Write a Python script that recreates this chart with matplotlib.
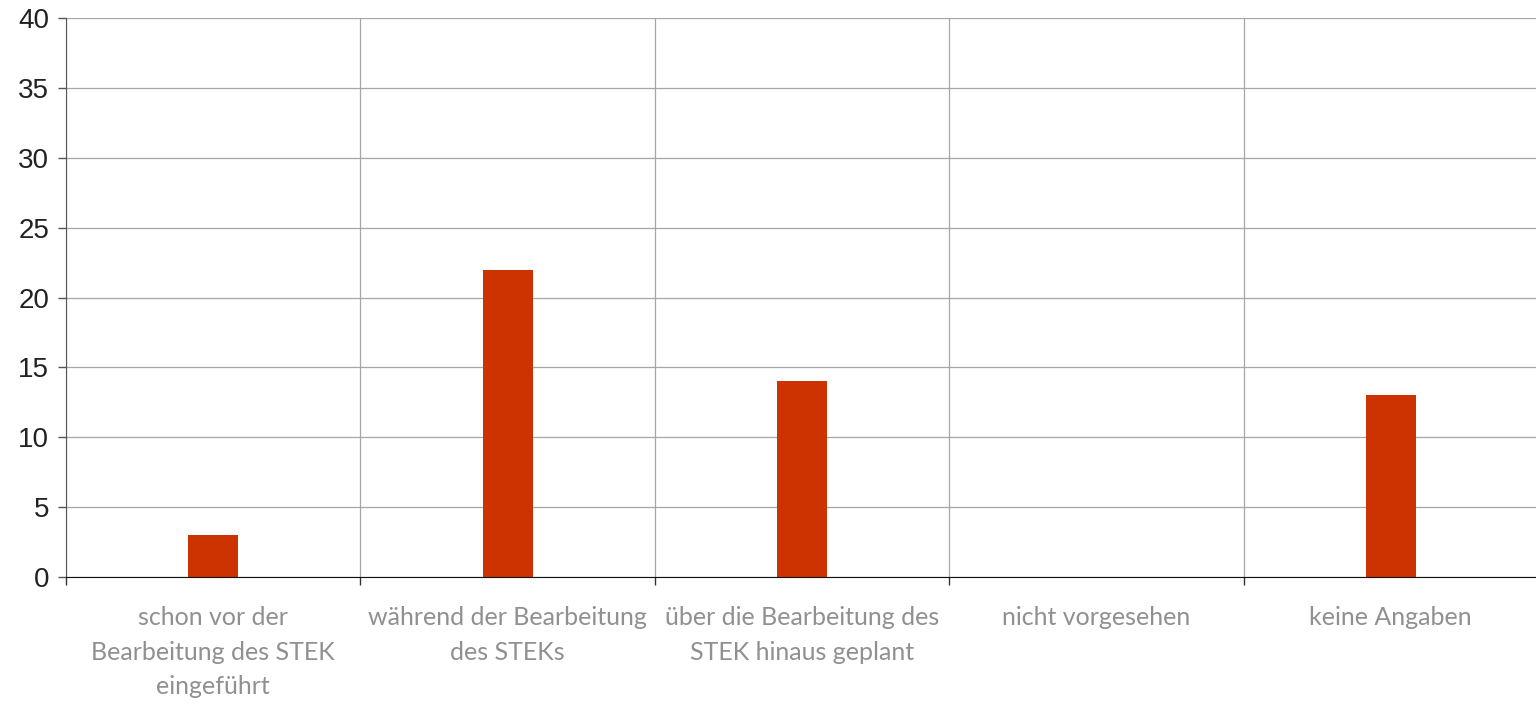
import numpy as np
import matplotlib
matplotlib.use('Agg')
import matplotlib.pyplot as plt

categories = ['schon vor der\nBearbeitung des STEK\neingeführt',
              'während der Bearbeitung\ndes STEKs',
              'über die Bearbeitung des\nSTEK hinaus geplant',
              'nicht vorgesehen',
              'keine Angaben']
values = [3, 22, 14, 0, 13]

fig = plt.figure(figsize=(15.36, 7.04), dpi=100)
ax = fig.add_axes([66/1536, 127/704, 1472/1536, 559/704])

x = np.arange(len(categories))
ax.bar(x, values, width=0.17, color='#CC3300', zorder=3)

ax.set_xlim(-0.5, len(categories) - 0.5)
ax.set_ylim(0, 40)
ax.set_yticks(np.arange(0, 41, 5))

# category boundaries carry the tick marks + vertical grid
ax.set_xticks(np.arange(-0.5, len(categories), 1.0))
ax.set_xticklabels([])
ax.set_xticks(x, minor=True)
ax.set_xticklabels(categories, minor=True, fontsize=18, color='#909090',
                   family=['Lato', 'DejaVu Sans'], fontweight='normal', linespacing=1.6)
ax.tick_params(axis='x', which='minor', length=0, pad=21)
ax.tick_params(axis='x', which='major', length=6, width=1, color='#333333', direction='out')
ax.tick_params(axis='y', length=6, width=1, color='#555555', labelsize=20, labelcolor='#222222', pad=6)
for lbl in ax.get_yticklabels():
    lbl.set_family(['Liberation Sans', 'DejaVu Sans'])

ax.grid(True, which='major', color='#a6a6a6', linewidth=0.9, zorder=0)
ax.spines['top'].set_visible(False)
ax.spines['right'].set_visible(False)
ax.spines['left'].set_color('#555555')
ax.spines['bottom'].set_color('#111111')
ax.spines['bottom'].set_zorder(4)

fig.savefig('out.png', dpi=100)
